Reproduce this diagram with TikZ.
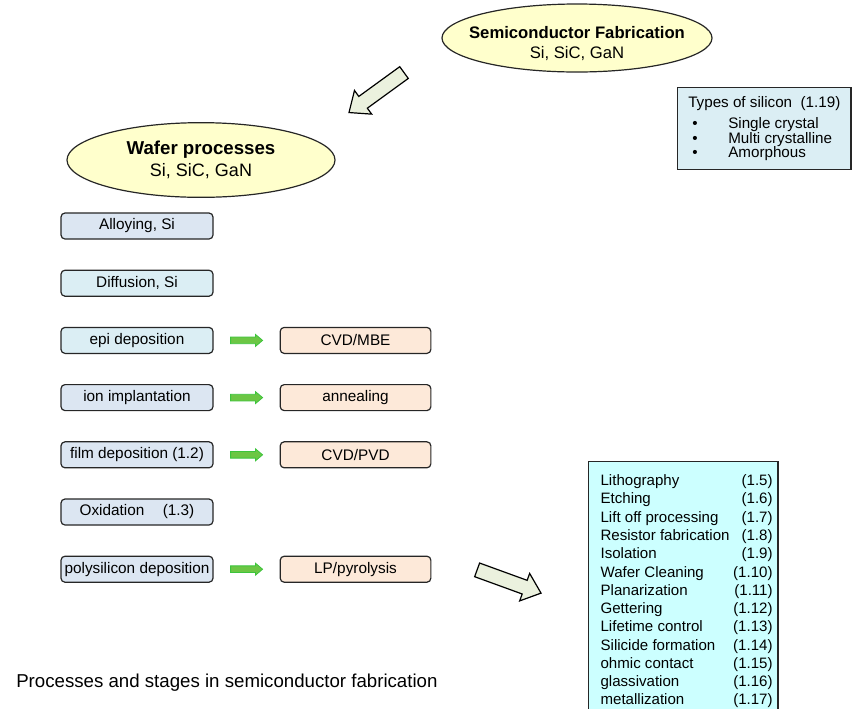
\documentclass[tikz,border=0pt]{standalone}
\usepackage{fontspec}
\setmainfont{Liberation Sans}
\usetikzlibrary{shapes.geometric,shapes.arrows,positioning}
\definecolor{ovalyellow}{HTML}{FFFFCC}
\definecolor{stepblue}{HTML}{DCE6F2}
\definecolor{stepcyan}{HTML}{DBEEF4}
\definecolor{steppeach}{HTML}{FDE9D9}
\definecolor{bigfill}{HTML}{EBF1DE}
\definecolor{grnfill}{HTML}{6CC644}
\definecolor{grnedge}{HTML}{3CC43C}
\definecolor{listcyan}{HTML}{CCFFFF}

\begin{document}
\begin{tikzpicture}[
  x=0.75pt, y=-0.75pt,
  node distance=22.5pt and 49.5pt,
  procbox/.style={draw=black!85, line width=0.9pt, rounded corners=3pt,
                  minimum width=114pt, minimum height=19.5pt, inner sep=0pt,
                  font=\fontsize{11.5}{13.8}\selectfont},
  lefta/.style={procbox, fill=stepblue},
  leftb/.style={procbox, fill=stepcyan},
  rightbox/.style={procbox, fill=steppeach, minimum width=113pt},
  oval/.style={ellipse, draw=black!85, line width=0.9pt, fill=ovalyellow, inner sep=0pt},
  bigarrow/.style={single arrow, draw=black, line width=0.9pt, fill=bigfill,
                   inner xsep=0pt, inner ysep=5pt, minimum height=51pt,
                   single arrow head extend=5.5pt, single arrow tip angle=80},
  grnarrow/.style={single arrow, draw=grnedge, fill=grnfill, line width=0.6pt,
                   inner xsep=0pt, inner ysep=2.2pt, minimum height=24pt,
                   single arrow head extend=2pt, single arrow tip angle=80},
  infobox/.style={draw=black!85, line width=0.9pt, anchor=north west, align=left},
]
\clip (0,0) rectangle (852,708);

%% Ovals
\node[oval, minimum width=202.5pt, minimum height=51pt,
      label={[align=center, font=\fontsize{12.5}{15}\selectfont, yshift=-4pt]center:{\textbf{Semiconductor Fabrication}\\Si, SiC, GaN}}]
      (fab) at (577,38) {};
\node[oval, minimum width=201pt, minimum height=56pt,
      label={[align=center, font=\fontsize{13.5}{16.5}\selectfont]center:{{\fontsize{14}{16.5}\selectfont\bfseries Wafer processes}\\Si, SiC, GaN}}]
      (wafer) at (201,160) {};

%% Block arrows
\node[bigarrow, rotate=216] (arrtop) at (380,90) {};
\node[bigarrow, rotate=-20] (arrlow) at (505,580) {};

%% Wafer process steps
\node[lefta] (alloy) at (137,226) {Alloying, Si};
\node[leftb, below=of alloy] (diff) {Diffusion, Si};
\node[leftb, below=of diff]  (epi)  {epi deposition};
\node[lefta, below=of epi]   (ion)  {ion implantation};
\node[lefta, below=of ion]   (film) {film deposition (1.2)};
\node[lefta, below=of film]  (oxid) {Oxidation\hspace{1.2em}(1.3)};
\node[lefta, below=of oxid]  (poly) {polysilicon deposition};

\node[rightbox, right=of epi]  (cvdmbe) {CVD/MBE};
\node[rightbox, right=of ion]  (anneal) {annealing};
\node[rightbox, right=of film] (cvdpvd) {CVD/PVD};
\node[rightbox, right=of poly] (lppyro) {LP/pyrolysis};

\path (epi)  -- node[grnarrow, pos=0.47] {} (cvdmbe);
\path (ion)  -- node[grnarrow, pos=0.47] {} (anneal);
\path (film) -- node[grnarrow, pos=0.47] {} (cvdpvd);
\path (poly) -- node[grnarrow, pos=0.47] {} (lppyro);

%% Side boxes
\node[infobox, fill=stepcyan, minimum width=129.75pt, minimum height=61.5pt, inner xsep=8pt,
      font=\fontsize{11.4}{11}\selectfont] (types) at (677,87)
  {Types of silicon\ \ (1.19)\\[5pt]
   \hspace*{3pt}\makebox[27pt][l]{\textbullet}Single crystal\\
   \hspace*{3pt}\makebox[27pt][l]{\textbullet}Multi crystalline\\
   \hspace*{3pt}\makebox[27pt][l]{\textbullet}Amorphous};

\node[infobox, fill=listcyan, minimum height=195pt, inner xsep=4pt,
      inner ysep=0pt, font=\fontsize{11.3}{13.7}\selectfont] (steps) at (588,461)
  {\begin{tabular*}{134pt}{@{\hspace{5pt}}l@{\extracolsep{\fill}}r@{}}
   Lithography & (1.5)\\
   Etching & (1.6)\hspace{0.7pt}\\
   Lift off processing & (1.7)\hspace{3.75pt}\\
   Resistor fabrication & (1.8)\hspace{6pt}\\
   Isolation & (1.9)\\
   Wafer Cleaning & (1.10)\hspace{1.5pt}\\
   Planarization & (1.11)\hspace{3pt}\\
   Gettering & (1.12)\hspace{3pt}\\
   Lifetime control & (1.13)\hspace{3.75pt}\\
   Silicide formation & (1.14)\hspace{4.5pt}\\
   ohmic contact & (1.15)\hspace{5pt}\\
   glassivation & (1.16)\hspace{1.5pt}\\
   metallization & (1.17)\hspace{1.5pt}\\
   \end{tabular*}};

%% Caption
\node[anchor=west, inner sep=0pt, font=\fontsize{14}{16}\selectfont] (caption) at (16,683)
  {Processes and stages in semiconductor fabrication};
\end{tikzpicture}
\end{document}
